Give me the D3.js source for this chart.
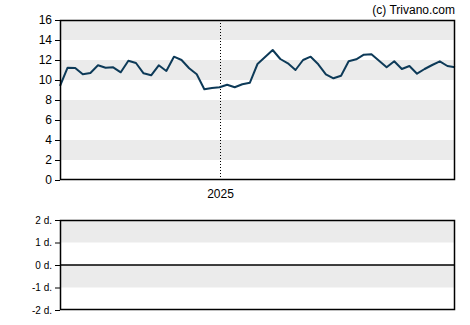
<!DOCTYPE html>
<html><head><meta charset="utf-8">
<script src="https://cdn.jsdelivr.net/npm/d3@7"></script>
<style>body{margin:0;background:#fff}svg{display:block}text{font-family:"Liberation Sans",Arial,sans-serif}</style>
</head><body><svg id="c" width="470" height="325"></svg>
<script>
const startDate = "2024-08-07";
const values = [9.4,11.23,11.2,10.57,10.7,11.47,11.23,11.27,10.77,11.93,11.7,10.67,10.47,11.47,10.9,12.33,12.0,11.17,10.57,9.07,9.2,9.27,9.53,9.27,9.57,9.73,11.6,12.3,13.0,12.1,11.67,11.0,12.0,12.33,11.57,10.57,10.17,10.43,11.87,12.07,12.53,12.57,11.93,11.27,11.87,11.1,11.4,10.63,11.1,11.5,11.87,11.4,11.27];
const yTicks = [0,2,4,6,8,10,12,14,16];
const lowerTicks = [-2,-1,0,1,2];
const lowerLabels = ["-2 d.","-1 d.","0 d.","1 d.","2 d."];
const yearMarks = ["2025-01-01"];
const yearLabels = ["2025"];
const credit = "(c) Trivano.com";

const parse = d3.utcParse("%Y-%m-%d");
const t0 = parse(startDate);
const dates = values.map((v,i)=> d3.utcDay.offset(t0, i*7));
const data = values.map((v,i)=>({d:dates[i], v}));

const svg = d3.select("#c");
const L=60,R=455,T=20,B=180, T2=220,B2=310;
const x = d3.scaleUtc().domain([dates[0], dates[dates.length-1]]).range([L,R]);
const y = d3.scaleLinear().domain([0,16]).range([B,T]);
const y2 = d3.scaleLinear().domain([-2,2]).range([B2,T2]);

// bands main
for (let i=0;i<yTicks.length-1;i++){
  if (i%2===1) svg.append("rect").attr("x",L).attr("width",R-L)
    .attr("y",y(yTicks[i+1])).attr("height",y(yTicks[i])-y(yTicks[i+1])).attr("fill","#ebebeb");
}
// bands lower
for (let i=0;i<lowerTicks.length-1;i++){
  if (i%2===1) svg.append("rect").attr("x",L).attr("width",R-L)
    .attr("y",y2(lowerTicks[i+1])).attr("height",y2(lowerTicks[i])-y2(lowerTicks[i+1])).attr("fill","#ebebeb");
}

// year dotted line
yearMarks.forEach((m,i)=>{
  const xx = Math.round(x(parse(m)))+0.5;
  svg.append("line").attr("x1",xx).attr("x2",xx).attr("y1",T).attr("y2",B)
    .attr("stroke","#000").attr("stroke-width",1).attr("stroke-dasharray","1,2");
  svg.append("text").attr("x",xx).attr("y",198).attr("text-anchor","middle")
    .attr("font-size",12).attr("fill","#000").text(yearLabels[i]);
});

// line
svg.append("path").datum(data)
  .attr("d", d3.line().x(d=>x(d.d)).y(d=>y(d.v)))
  .attr("fill","none").attr("stroke","#0d3a58").attr("stroke-width",2).attr("stroke-linejoin","round");

// axes main
const ya = d3.axisLeft(y).tickValues(yTicks).tickSize(5).tickPadding(3);
const g1 = svg.append("g").attr("transform",`translate(${L},0)`).call(ya);
g1.select(".domain").remove();
g1.selectAll("line").attr("stroke","#000");
g1.selectAll("text").attr("font-size",12).attr("fill","#000").attr("font-family","Liberation Sans, Arial, sans-serif");
svg.append("rect").attr("x",L+0.5).attr("y",T+0.5).attr("width",R-L-1).attr("height",B-T-1)
  .attr("fill","none").attr("stroke","#000").attr("stroke-width",1.5);

// axes lower
const ya2 = d3.axisLeft(y2).tickValues(lowerTicks).tickSize(5).tickPadding(3)
  .tickFormat((d,i)=>lowerLabels[i]);
const g2 = svg.append("g").attr("transform",`translate(${L},0)`).call(ya2);
g2.select(".domain").remove();
g2.selectAll("line").attr("stroke","#000");
g2.selectAll("text").attr("font-size",10).attr("fill","#000").attr("font-family","Liberation Sans, Arial, sans-serif");
svg.append("rect").attr("x",L+0.5).attr("y",T2+0.5).attr("width",R-L-1).attr("height",B2-T2-1)
  .attr("fill","none").attr("stroke","#000").attr("stroke-width",1.5);
svg.append("line").attr("x1",L).attr("x2",R).attr("y1",y2(0)).attr("y2",y2(0))
  .attr("stroke","#000").attr("stroke-width",1.5);

svg.append("text").attr("x",R).attr("y",14).attr("text-anchor","end")
  .attr("font-size",12).attr("fill","#000").text(credit);
</script></body></html>
